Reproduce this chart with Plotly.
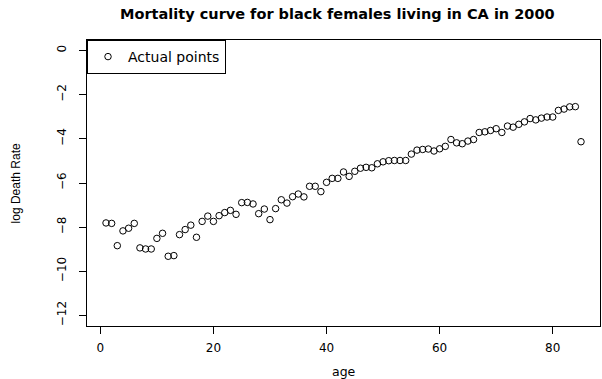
import plotly.graph_objects as go

# Age in years and observed log death rate
ages = list(range(1, 86))
log_death_rate = [
    -7.81, -7.83, -8.84, -8.17, -8.05, -7.83, -8.94, -8.99, -8.99, -8.51,
    -8.28, -9.32, -9.29, -8.34, -8.11, -7.91, -8.46, -7.74, -7.50, -7.74,
    -7.48, -7.34, -7.24, -7.42, -6.89, -6.88, -6.95, -7.39, -7.18, -7.66,
    -7.16, -6.76, -6.91, -6.62, -6.50, -6.63, -6.15, -6.15, -6.39, -5.97,
    -5.79, -5.79, -5.50, -5.70, -5.47, -5.33, -5.29, -5.31, -5.13, -5.04,
    -4.99, -4.98, -4.98, -4.98, -4.69, -4.51, -4.48, -4.46, -4.55, -4.45,
    -4.34, -4.03, -4.18, -4.22, -4.10, -4.03, -3.71, -3.68, -3.62, -3.54,
    -3.71, -3.42, -3.47, -3.34, -3.23, -3.08, -3.14, -3.06, -3.01, -3.01,
    -2.71, -2.65, -2.55, -2.54, -4.13,
]
x_ticks = [0, 20, 40, 60, 80]
y_ticks = [0, -2, -4, -6, -8, -10, -12]

W, H = 602, 379
L, R, T, B = 86.6, 1.9, 40, 52.7

fig = go.Figure()
fig.add_trace(go.Scatter(
    x=ages, y=log_death_rate, mode="markers", name="Actual points",
    marker=dict(symbol="circle-open", size=6.5, color="black", line=dict(width=1, color="black")),
))

axis_common = dict(
    showgrid=False, zeroline=False, showline=True, mirror=True,
    linecolor="black", linewidth=1, ticks="outside", ticklen=7,
    tickcolor="black", tickwidth=1,
    tickfont=dict(family="DejaVu Sans", size=12, color="black"),
)

fig.update_layout(
    width=W, height=H, autosize=False,
    margin=dict(l=L, r=R, t=T, b=B, pad=0),
    paper_bgcolor="white", plot_bgcolor="white",
    xaxis=dict(range=[-2.36, 88.36], tickvals=x_ticks, ticklabelstandoff=4, **axis_common),
    yaxis=dict(range=[-12.48, 0.48], tickvals=y_ticks, tickangle=-90, ticklabelstandoff=8,
               **axis_common),
    title=dict(
        text="<b>Mortality curve for black females living in CA in 2000</b>",
        x=0.488, xref="paper", xanchor="center",
        y=1 - 14 / H, yref="container", yanchor="middle",
        font=dict(family="DejaVu Sans", size=14.5, color="black"),
    ),
    showlegend=True,
    legend=dict(
        x=0, y=1, xanchor="left", yanchor="top",
        bordercolor="black", borderwidth=1, bgcolor="white",
        font=dict(family="DejaVu Sans", size=14, color="black"),
        itemwidth=30,
    ),
    annotations=[
        dict(text="log Death Rate", x=0, y=0.5, xref="paper", yref="paper",
             xanchor="center", yanchor="middle", xshift=16 - L, textangle=-90,
             showarrow=False, font=dict(family="Liberation Sans", size=12, color="black")),
        dict(text="age", x=0.5, y=0, xref="paper", yref="paper",
             xanchor="center", yanchor="middle", yshift=-(372 - (H - B)),
             showarrow=False, font=dict(family="DejaVu Sans", size=12.5, color="black")),
    ],
)

fig.write_html("out.html")
